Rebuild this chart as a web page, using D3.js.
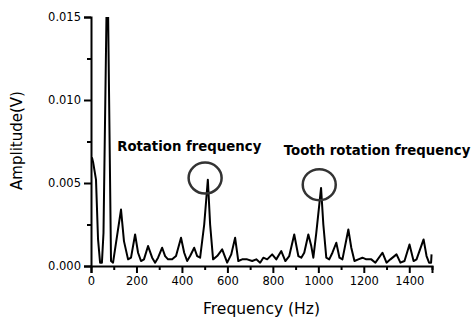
<!DOCTYPE html>
<html>
<head>
<meta charset="utf-8">
<script src="https://cdn.jsdelivr.net/npm/d3@7"></script>
<style>
  body { margin: 0; background: #fff; }
  svg { display: block; font-family: "DejaVu Sans", Verdana, sans-serif; }
</style>
</head>
<body>
<div class="chart"></div>
<script>
// spectrum: frequency (Hz) and amplitude (V)
const freq = [0, 5, 10, 22, 31, 40, 48, 55, 72, 88, 97, 132, 145, 163, 176, 194, 207, 220, 233, 251,
  269, 282, 295, 313, 326, 339, 357, 374, 396, 410, 423, 436, 454, 467, 480, 498, 514, 524, 537, 555,
  577, 599, 617, 634, 648, 665, 687, 709, 727, 744, 758, 775, 797, 815, 837, 855, 872, 894, 912, 925,
  938, 956, 969, 978, 991, 1012, 1022, 1035, 1048, 1062, 1079, 1093, 1106, 1132, 1145, 1159, 1176, 1194, 1211, 1233,
  1251, 1282, 1300, 1317, 1344, 1361, 1379, 1401, 1419, 1432, 1463, 1476, 1487, 1496, 1498];
const amp = [0.0064, 0.0065, 0.0062, 0.0052, 0.0016, 0.0002, 0.0002, 0.0020, 0.0190, 0.0003, 0.0002, 0.0034, 0.0015, 0.0004, 0.0005, 0.0019, 0.0008, 0.0003, 0.0004, 0.0012,
  0.0005, 0.0002, 0.0005, 0.0011, 0.0006, 0.0004, 0.0004, 0.0006, 0.0017, 0.0008, 0.0003, 0.0006, 0.0011, 0.0006, 0.0005, 0.0025, 0.0052, 0.0025, 0.0004, 0.0006,
  0.0010, 0.0002, 0.0007, 0.0017, 0.0003, 0.0004, 0.0004, 0.0003, 0.0004, 0.0002, 0.0005, 0.0004, 0.0007, 0.0004, 0.0009, 0.0003, 0.0006, 0.0019, 0.0006, 0.0005,
  0.0008, 0.0019, 0.0012, 0.0005, 0.0020, 0.0047, 0.0025, 0.0005, 0.0004, 0.0008, 0.0014, 0.0005, 0.0004, 0.0022, 0.0011, 0.0003, 0.0004, 0.0005, 0.0004, 0.0004,
  0.0002, 0.0008, 0.0002, 0.0004, 0.0007, 0.0002, 0.0003, 0.0013, 0.0003, 0.0004, 0.0016, 0.0006, 0.0002, 0.0002, 0.0007];

const xTicks = [0, 200, 400, 600, 800, 1000, 1200, 1400];
const xMinorTicks = [100, 300, 500, 700, 900, 1100, 1300, 1500];
const yTicks = [0, 0.005, 0.010, 0.015];
const yMinorTicks = [0.0025, 0.0075, 0.0125];

// annotations: label text and where they sit in data units
const labels = [
  { text: "Rotation frequency", f: 115, a: 0.0069 },
  { text: "Tooth rotation frequency", f: 848, a: 0.0067 }
];
const rings = [
  { f: 502, a: 0.0053 },
  { f: 1004, a: 0.0049 }
];

const margin = { top: 17, right: 41, bottom: 56, left: 91 };
const width = 473 - margin.left - margin.right,
      height = 322 - margin.top - margin.bottom;

const root = d3.select(".chart")
    .append("svg")
    .attr("width", 473)
    .attr("height", 322);

const svg = root.append("g")
    .attr("transform", `translate(${margin.left}, ${margin.top})`);

const xScale = d3.scaleLinear().domain([0, 1500]).range([0, width]);
const yScale = d3.scaleLinear().domain([0, 0.015]).range([height, 0]);

// clip the line to the plot area, the big peak runs off the top
svg.append("clipPath")
    .attr("id", "plot-clip")
    .append("rect")
    .attr("x", 0).attr("y", 0)
    .attr("width", width + 2).attr("height", height);

const data = freq.map((f, i) => ({ f: f, a: amp[i] }));

const line = d3.line()
    .x(d => xScale(d.f))
    .y(d => yScale(d.a));

svg.append("path")
    .datum(data)
    .attr("clip-path", "url(#plot-clip)")
    .attr("d", line)
    .attr("fill", "none")
    .attr("stroke", "#000")
    .attr("stroke-width", 2)
    .attr("stroke-linejoin", "round");

// axes
svg.append("g")
    .attr("class", "x-axis")
    .attr("transform", `translate(0, ${height})`)
    .call(d3.axisBottom(xScale).tickValues(xTicks).tickFormat(d3.format("d")).tickSizeOuter(0).tickSize(7).tickPadding(4));
svg.append("g")
    .attr("transform", `translate(0, ${height})`)
    .call(d3.axisBottom(xScale).tickValues(xMinorTicks).tickFormat("").tickSizeOuter(0).tickSize(4))
    .select(".domain").remove();

svg.append("g")
    .attr("class", "y-axis")
    .call(d3.axisLeft(yScale).tickValues(yTicks).tickFormat(d3.format(".3f")).tickSizeOuter(0).tickSize(7).tickPadding(3));
svg.append("g")
    .call(d3.axisLeft(yScale).tickValues(yMinorTicks).tickFormat("").tickSizeOuter(0).tickSize(4))
    .select(".domain").remove();

svg.selectAll(".domain, .tick line")
    .attr("stroke", "#000")
    .attr("stroke-width", 2);
svg.selectAll(".tick text")
    .attr("font-family", "DejaVu Sans, Verdana, sans-serif")
    .attr("font-size", 11.5)
    .attr("fill", "#000");

// axis titles
svg.append("text")
    .attr("x", width / 2)
    .attr("y", height + 48)
    .attr("text-anchor", "middle")
    .attr("font-size", 15.5)
    .text("Frequency (Hz)");

svg.append("text")
    .attr("transform", `translate(${-69}, ${height / 2 - 1}) rotate(-90)`)
    .attr("text-anchor", "middle")
    .attr("font-size", 15)
    .text("Amplitude(V)");

// annotations
svg.selectAll(".label")
    .data(labels)
    .enter().append("text")
    .attr("class", "label")
    .attr("x", d => xScale(d.f))
    .attr("y", d => yScale(d.a))
    .attr("font-size", 13.3)
    .attr("font-weight", "bold")
    .text(d => d.text);

svg.selectAll(".ring")
    .data(rings)
    .enter().append("ellipse")
    .attr("class", "ring")
    .attr("cx", d => xScale(d.f))
    .attr("cy", d => yScale(d.a))
    .attr("rx", 16.5)
    .attr("ry", 15.5)
    .attr("fill", "none")
    .attr("stroke", "#333")
    .attr("stroke-width", 2.5);
</script>
</body>
</html>
